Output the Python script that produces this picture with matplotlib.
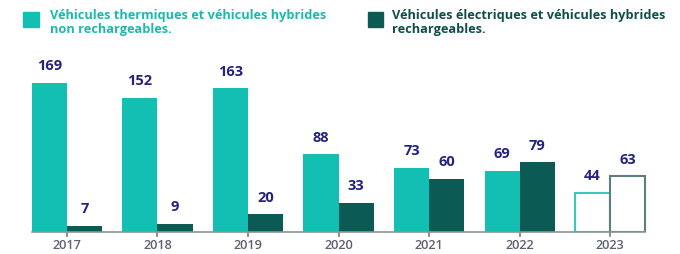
import matplotlib
matplotlib.use("Agg")
import matplotlib.pyplot as plt
import numpy as np

years = ["2017", "2018", "2019", "2020", "2021", "2022", "2023"]
thermiques = [169, 152, 163, 88, 73, 69, 44]
electriques = [7, 9, 20, 33, 60, 79, 63]
legend_labels = ["Véhicules thermiques et véhicules hybrides\nnon rechargeables.",
                 "Véhicules électriques et véhicules hybrides\nrechargeables."]

LIGHT = "#13BFB3"
DARK = "#0C5A54"
NAVY = "#25237E"
GREY = "#5E6270"

plt.rcParams['font.family'] = ['Open Sans', 'DejaVu Sans']

W, H = 680, 254
fig = plt.figure(figsize=(W / 100, H / 100), dpi=100)
fig.patch.set_facecolor("white")

ax_left, ax_right = 20, 660
ax_bottom, ax_top = 22, 194
ax = fig.add_axes([ax_left / W, ax_bottom / H, (ax_right - ax_left) / W, (ax_top - ax_bottom) / H])
ax.set_xlim(-0.519, 6.552)
ax.set_ylim(0, 195)
ax.axis("off")

x = np.arange(len(years))
bw = 0.387
n = len(years)
for i in range(n):
    last = (i == n - 1)
    if last:
        ax.bar(x[i] - bw / 2, thermiques[i], bw, facecolor="white", edgecolor="#3CC7BB", linewidth=1.5, zorder=3)
        ax.bar(x[i] + bw / 2, electriques[i], bw, facecolor="white", edgecolor="#5B7F7A", linewidth=1.5, zorder=3)
    else:
        ax.bar(x[i] - bw / 2, thermiques[i], bw, color=LIGHT, zorder=3)
        ax.bar(x[i] + bw / 2, electriques[i], bw, color=DARK, zorder=3)
    ax.text(x[i] - bw / 2, thermiques[i] + 11, str(thermiques[i]), ha="center", va="bottom",
            color=NAVY, fontsize=10.5, fontweight="bold")
    ax.text(x[i] + bw / 2, electriques[i] + 11, str(electriques[i]), ha="center", va="bottom",
            color=NAVY, fontsize=10.5, fontweight="bold")
    ax.text(x[i], -8.5, years[i], ha="center", va="top", color=GREY, fontsize=9.2, fontweight="semibold")
    ax.plot([x[i], x[i]], [0, -5], color="#6E7B79", linewidth=1.2, clip_on=False, zorder=2)

ax.plot([x[0] - bw, x[-1] + bw], [0, 0], color="#8A9593", linewidth=1.2, zorder=4, clip_on=False)

# legend
fig.patches.append(plt.Rectangle((23 / W, 1 - 27 / H), 16 / W, 15 / H, transform=fig.transFigure,
                                 color=LIGHT, figure=fig))
fig.text(50 / W, 1 - 9 / H, legend_labels[0], ha="left", va="top", color="#1DB8AC",
         fontsize=9.15, fontweight="bold", linespacing=1.08)
fig.patches.append(plt.Rectangle((368 / W, 1 - 27 / H), 15 / W, 15 / H, transform=fig.transFigure,
                                 color=DARK, figure=fig))
fig.text(392 / W, 1 - 9 / H, legend_labels[1], ha="left", va="top", color="#0E4F4A",
         fontsize=9.15, fontweight="bold", linespacing=1.08)

fig.savefig("out.png", dpi=100, facecolor="white")
